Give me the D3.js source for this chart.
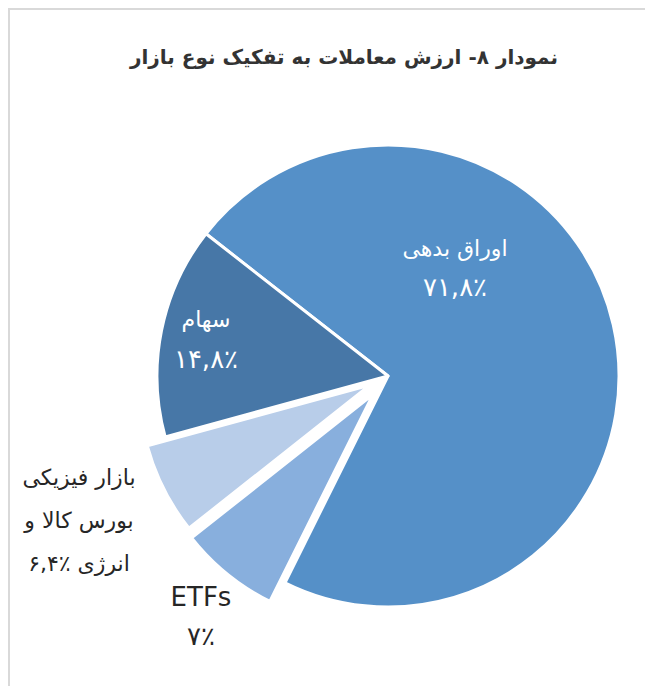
<!DOCTYPE html>
<html>
<head>
<meta charset="utf-8">
<script src="https://cdn.jsdelivr.net/npm/d3@7"></script>
<style>
  body { margin: 0; background: #fff; }
  text { font-family: "DejaVu Sans", sans-serif; }
</style>
</head>
<body>
<div id="chart"></div>
<script>
// data
var categories = ["اوراق بدهی", "ETFs", "بازار فیزیکی بورس کالا و انرژی", "سهام"];
var shares = [71.8, 7, 6.4, 14.8];
var valueLabels = ["۷۱,۸٪", "۷٪", "۶,۴٪", "۱۴,۸٪"];
var colors = ["#5590c8", "#88afdd", "#b8cde9", "#4777a7"];

var svgWidth = 645;
var svgHeight = 686;

var cx = 388, cy = 376, radius = 231;
// how far each slice is pulled out of the pie
var explode = [0, 24, 20, 0];

var svg = d3.select("#chart")
  .append("svg")
  .attr("width", svgWidth)
  .attr("height", svgHeight);

// grey frame
svg.append("path")
  .attr("d", "M9,690 L9,9 L650,9")
  .attr("fill", "none")
  .attr("stroke", "#d9d9d9")
  .attr("stroke-width", 2);

// title
svg.append("text")
  .attr("x", 558)
  .attr("y", 64)
  .attr("direction", "rtl")
  .attr("text-anchor", "start")
  .attr("font-size", 20)
  .attr("font-weight", "bold")
  .attr("fill", "#333")
  .text("نمودار ۸- ارزش معاملات به تفکیک نوع بازار");

var startAngle = 308 * Math.PI / 180;

var pie = d3.pie()
  .sort(null)
  .startAngle(startAngle)
  .endAngle(startAngle + 2 * Math.PI)
  .value(d => d);

var arc = d3.arc()
  .innerRadius(0)
  .outerRadius(radius);

var chartGroup = svg.append("g")
  .attr("transform", `translate(${cx}, ${cy})`);

chartGroup.selectAll("path")
  .data(pie(shares))
  .enter()
  .append("path")
  .attr("d", arc)
  .attr("fill", (d, i) => colors[i])
  .attr("stroke", "#fff")
  .attr("stroke-width", 3)
  .attr("stroke-linejoin", "round")
  .attr("transform", function(d, i) {
    var mid = (d.startAngle + d.endAngle) / 2;
    return `translate(${explode[i] * Math.sin(mid)}, ${-explode[i] * Math.cos(mid)})`;
  });

// label layout: name lines then the value line
var labelLayout = [
  { x: 455, y: 256, gap: 40, fill: "#fff", lines: ["اوراق بدهی"] },
  { x: 201, y: 606, gap: 39, fill: "#262626", lines: ["ETFs"] },
  { x: 79, y: 485, gap: 43, fill: "#262626", lines: ["بازار فیزیکی", "بورس کالا و"] },
  { x: 206, y: 327, gap: 41, fill: "#fff", lines: ["سهام"] }
];

labelLayout.forEach(function(lab, i) {
  var t = svg.append("text")
    .attr("text-anchor", "middle")
    .attr("direction", "rtl")
    .attr("font-size", 22)
    .attr("fill", lab.fill);
  lab.lines.forEach(function(line, j) {
    t.append("tspan")
      .attr("x", lab.x)
      .attr("y", lab.y + j * lab.gap)
      .attr("font-size", line === "ETFs" ? 26 : 22)
      .text(line);
  });
  var last = t.append("tspan")
    .attr("x", lab.x)
    .attr("y", lab.y + lab.lines.length * lab.gap);
  if (i === 2) {
    // LRM keeps the percent sign to the right of the number
    last.text("انرژی \u200E" + valueLabels[i]);
  } else {
    last.attr("font-size", 26).text(valueLabels[i]);
  }
});
</script>
</body>
</html>
